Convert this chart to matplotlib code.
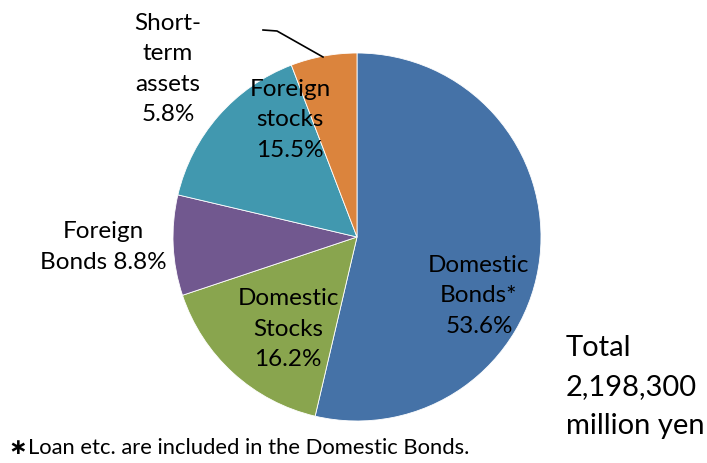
import matplotlib.pyplot as plt

# Asset allocation shares (%), clockwise from 12 o'clock
categories = ["Domestic\nBonds*", "Domestic\nStocks", "Foreign\nBonds", "Foreign\nstocks", "Short-\nterm\nassets"]
shares = [53.6, 16.2, 8.8, 15.5, 5.8]
colors = ["#4572A7", "#89A54E", "#71588F", "#4198AF", "#DB843D"]
total_text = "Total\n2,198,300\nmillion yen"
footnote = "Loan etc. are included in the Domestic Bonds."

W, H = 707, 463
fig = plt.figure(figsize=(W / 100, H / 100), dpi=100)
ax = fig.add_axes([0, 0, 1, 1])

cx, cy, r = 357, H - 237, 184
ax.pie(shares, colors=colors, startangle=90, counterclock=False,
       center=(cx, cy), radius=r, frame=True,
       wedgeprops=dict(linewidth=0.6, edgecolor="white"))
ax.set_xlim(0, W)
ax.set_ylim(0, H)
ax.set_aspect("equal")
ax.axis("off")

font = "Lato"
fs = 17.5
lab = dict(family=font, fontsize=fs, ha="center", va="center", linespacing=1.55, color="black")

# label text for each slice
texts = [
    "Domestic\nBonds*\n%.1f%%" % shares[0],
    "Domestic\nStocks\n%.1f%%" % shares[1],
    "Foreign\nBonds %.1f%%" % shares[2],
    "Foreign\nstocks\n%.1f%%" % shares[3],
    "Short-\nterm\nassets\n%.1f%%" % shares[4],
]
pos = [(479, 296), (288, 329), (103, 247), (290, 120), (168, 69)]
for t, (x, y) in zip(texts, pos):
    ax.text(x, H - y, t, **lab)

# leader line for short-term assets
ax.plot([263, 277, 323], [H - 30, H - 31, H - 57], color="black", lw=1.2)

ax.text(566, H - 387, total_text, family=font, fontsize=21, ha="left", va="center",
        linespacing=1.6)

ax.text(8, H - 448, "\u2217", family="DejaVu Sans", fontsize=16, fontweight="bold",
        ha="left", va="center")
ax.text(28, H - 448, footnote, family=font, fontsize=15.8, ha="left", va="center")

fig.savefig("out.png", dpi=100)
